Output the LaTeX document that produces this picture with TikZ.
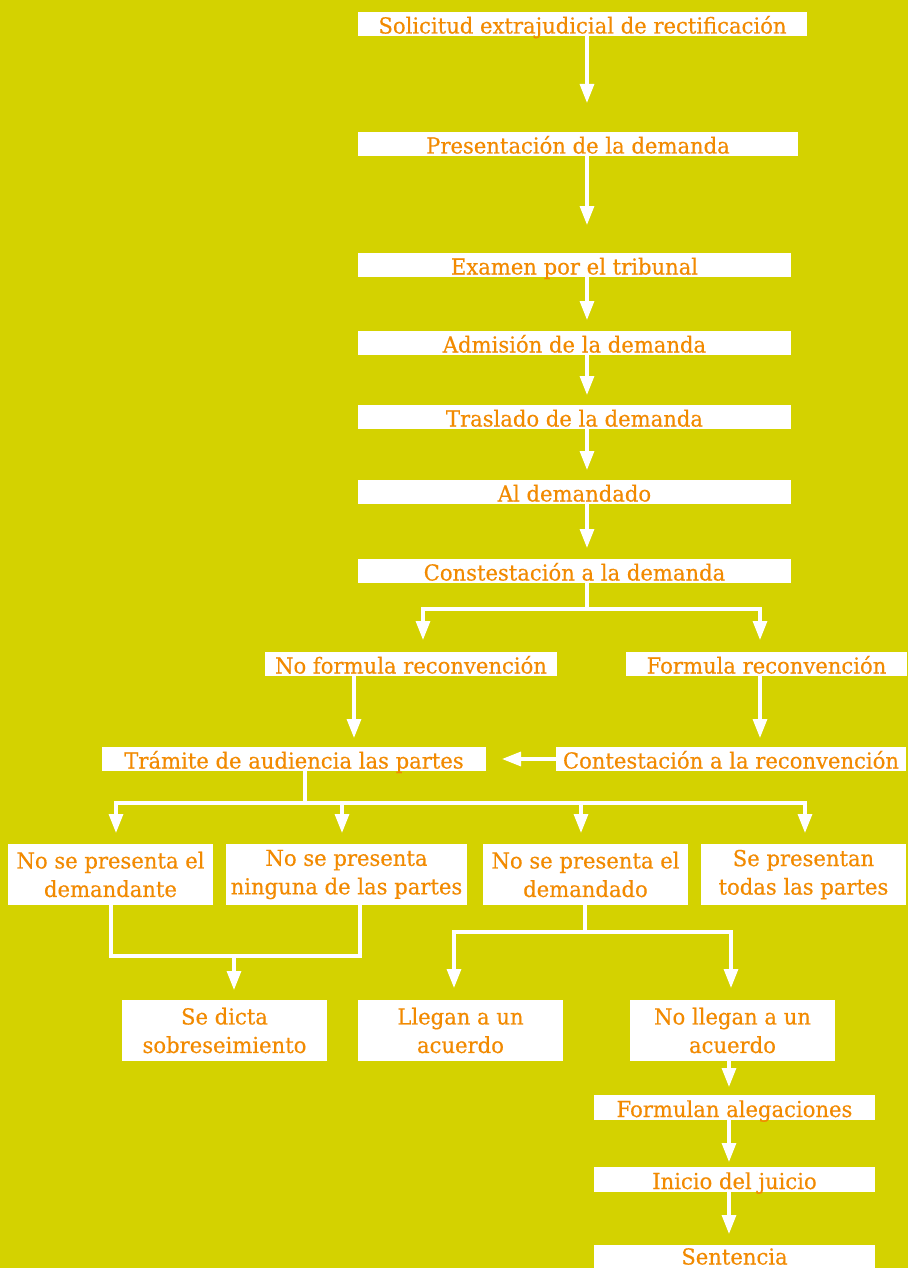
\documentclass[tikz,border=0pt]{standalone}
\usepackage{fontspec}
\setmainfont{DejaVu Serif}[FakeStretch=0.96,FakeBold=0.4]
\usetikzlibrary{arrows.meta}
\definecolor{bgc}{RGB}{212,210,0}
\definecolor{orng}{RGB}{242,138,0}
\tikzset{
  box/.style={fill=white, inner sep=0pt, text=orng, align=center,
    font=\fontsize{22}{28.5}\selectfont},
  onebox/.style={box, text height=19pt, text depth=0pt},
  ln/.style={draw=white, line width=3.2pt},
  arr/.style={ln, -{Triangle[width=14pt,length=19pt]}},
}
\begin{document}
\begin{tikzpicture}[x=1pt,y=-1pt]
\fill[bgc] (0,0) rectangle (908,1268);
\useasboundingbox (0,0) rectangle (908,1268);
% boxes
\node[onebox, minimum width=449, minimum height=24] (n1) at (582.5,24) {Solicitud extrajudicial de rectificación};
\node[onebox, minimum width=440, minimum height=24] (n2) at (578,144) {Presentación de la demanda};
\node[onebox, minimum width=433, minimum height=24] (n3) at (574.5,265) {Examen por el tribunal};
\node[onebox, minimum width=433, minimum height=24] (n4) at (574.5,343) {Admisión de la demanda};
\node[onebox, minimum width=433, minimum height=24] (n5) at (574.5,417) {Traslado de la demanda};
\node[onebox, minimum width=433, minimum height=24] (n6) at (574.5,492) {Al demandado};
\node[onebox, minimum width=433, minimum height=24] (n7) at (574.5,571) {Constestación a la demanda};
\node[onebox, minimum width=292, minimum height=24] (n8) at (411,664) {No formula reconvención};
\node[onebox, minimum width=281, minimum height=24] (n9) at (766.5,664) {Formula reconvención};
\node[onebox, minimum width=384, minimum height=24] (n10) at (294,759) {Trámite de audiencia las partes};
\node[onebox, minimum width=350, minimum height=24] (n11) at (731,759) {Contestación a la reconvención};
\node[box, minimum width=205, minimum height=61] (n12) at (110.5,874.5) {No se presenta el\\demandante};
\node[box, minimum width=241, minimum height=61] (n13) at (346.5,874.5) {No se presenta\\ninguna de las partes};
\node[box, minimum width=205, minimum height=61] (n14) at (585.5,874.5) {No se presenta el\\demandado};
\node[box, minimum width=205, minimum height=61] (n15) at (803.5,874.5) {Se presentan\\todas las partes};
\node[box, minimum width=205, minimum height=61] (n16) at (224.5,1030.5) {Se dicta\\sobreseimiento};
\node[box, minimum width=205, minimum height=61] (n17) at (460.5,1030.5) {Llegan a un\\acuerdo};
\node[box, minimum width=205, minimum height=61] (n18) at (732.5,1030.5) {No llegan a un\\acuerdo};
\node[onebox, minimum width=281, minimum height=25] (n19) at (734.5,1107.5) {Formulan alegaciones};
\node[onebox, minimum width=281, minimum height=25] (n20) at (734.5,1179.5) {Inicio del juicio};
\node[onebox, minimum width=281, minimum height=23, text height=16pt] (n21) at (734.5,1256.5) {Sentencia};
% connector coordinates
\coordinate (t2) at (587,103);
\coordinate (t3) at (587,225);
\coordinate (t4) at (587,320);
\coordinate (t5) at (587,395);
\coordinate (t6) at (587,470);
\coordinate (t7) at (587,548);
\coordinate (s7) at (587,609);
\coordinate (t8) at (423,640);
\coordinate (t9) at (760,640);
\coordinate (t10) at (354,738);
\coordinate (t11) at (760,738);
\coordinate (t10b) at (502,759);
\coordinate (s10) at (305,803);
\coordinate (t12) at (116,833);
\coordinate (t13) at (342,833);
\coordinate (t14) at (581,833);
\coordinate (t15) at (805,833);
\coordinate (m1) at (111,956);
\coordinate (m2) at (360,956);
\coordinate (m3) at (234,956);
\coordinate (t16) at (234,990);
\coordinate (s14) at (585,932);
\coordinate (t17) at (454,988);
\coordinate (t18) at (731,988);
\coordinate (t19) at (729,1087);
\coordinate (t20) at (729,1162);
\coordinate (t21) at (729,1234);
% connectors
\draw[arr] (n1.south -| t2) -- (t2);
\draw[arr] (n2.south -| t3) -- (t3);
\draw[arr] (n3.south -| t4) -- (t4);
\draw[arr] (n4.south -| t5) -- (t5);
\draw[arr] (n5.south -| t6) -- (t6);
\draw[arr] (n6.south -| t7) -- (t7);
\draw[ln] (n7.south -| s7) -- (s7);
\draw[arr] (s7) -| (t8);
\draw[arr] (s7) -| (t9);
\draw[arr] (n8.south -| t10) -- (t10);
\draw[arr] (n9.south -| t11) -- (t11);
\draw[arr] (n11.west) -- (t10b);
\draw[ln] (n10.south -| s10) -- (s10);
\draw[arr] (s10) -| (t12);
\draw[arr] (s10) -| (t13);
\draw[arr] (s10) -| (t14);
\draw[arr] (s10) -| (t15);
\draw[ln] (n12.south -| m1) -- (m1) -- (m2) -- (n13.south -| m2);
\draw[arr] (m3) -- (t16);
\draw[ln] (n14.south -| s14) -- (s14);
\draw[arr] (s14) -| (t17);
\draw[arr] (s14) -| (t18);
\draw[arr] (n18.south -| t19) -- (t19);
\draw[arr] (n19.south -| t20) -- (t20);
\draw[arr] (n20.south -| t21) -- (t21);
\end{tikzpicture}
\end{document}
